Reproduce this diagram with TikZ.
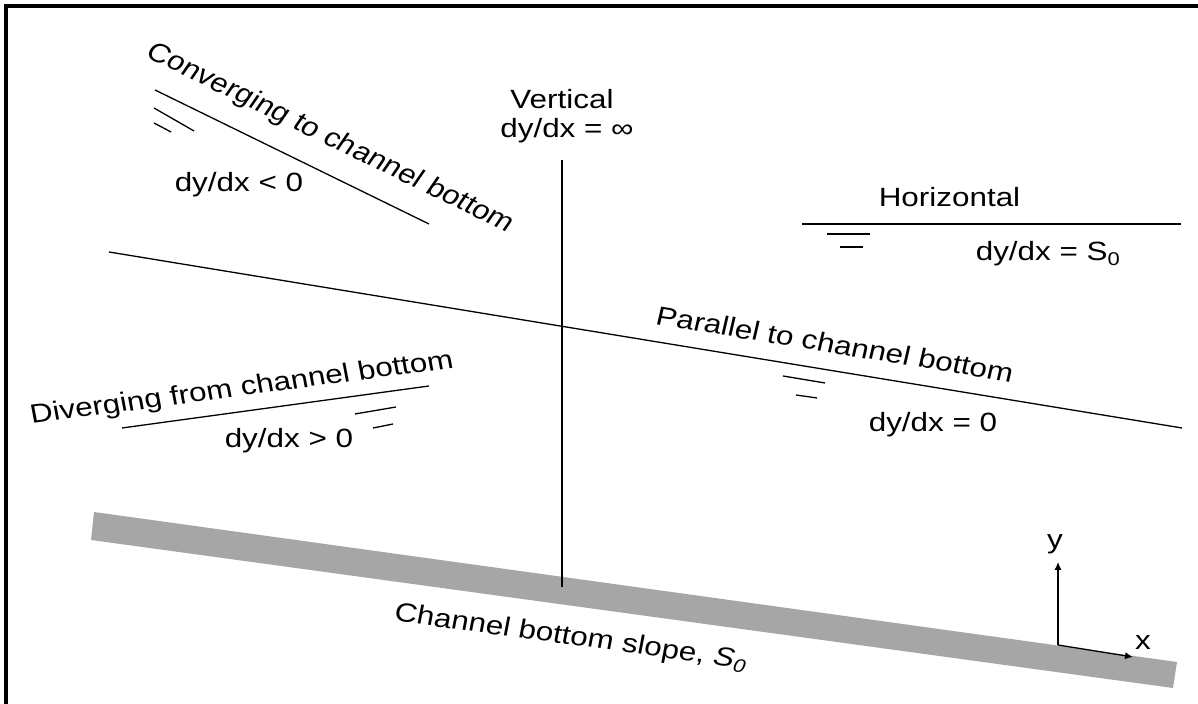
\documentclass[tikz,border=0pt]{standalone}
\usepackage{fontspec}
\setmainfont{Liberation Sans}
\usepackage{tikz}
\usetikzlibrary{arrows.meta, positioning}
\definecolor{grisfondo}{RGB}{166,166,166}
\newcommand{\textsize}{\fontsize{13.2}{15.8}\selectfont}
\tikzset{>={Latex[length=4pt, width=3.6pt]}, etiq/.style={xscale=1.19, font=\textsize, inner sep=0pt}}

\begin{document}
\begin{tikzpicture}[x=50pt, y=50pt, line width=0.65pt]
	\useasboundingbox (0,0) rectangle (11.98,7.04);
	\draw [line width=2pt] (0.06,0) -- (0.06,6.98) -- (11.98,6.98);

	% channel bottom
	\fill [grisfondo] (0.94,1.92) -- (11.77,0.42) -- (11.73,0.16) -- (0.91,1.64) -- cycle;
	\node [etiq, rotate=-9.2] (fondo) at (5.71,0.66) {Channel bottom slope, \textit{S}\textsubscript{\textit{0}}};

	% converging
	\draw (1.55,6.14) -- (4.29,4.80);
	\draw (1.54,5.96) -- (1.94,5.73);
	\draw (1.54,5.81) -- (1.71,5.72);
	\node [etiq, rotate=-30] (conv) at (3.30,5.655) {Converging to channel bottom};
	\node [etiq, anchor=base west] (convdy) at (1.74,5.12) {dy/dx < 0};

	% vertical
	\draw (5.62,5.44) -- (5.62,1.17);
	\node [etiq, anchor=base] (vert) at (5.62,5.95) {Vertical};
	\node [etiq, anchor=base] (vertdy) at (5.67,5.66) {dy/dx = ∞};

	% horizontal
	\draw (8.02,4.80) -- (11.81,4.80);
	\draw (8.27,4.70) -- (8.70,4.70);
	\draw (8.40,4.57) -- (8.63,4.57);
	\node [etiq, anchor=base west] (horiz) at (8.78,4.97) {Horizontal};
	\node [etiq, anchor=base west] (horizdy) at (9.75,4.43) {dy/dx = S\textsubscript{0}};

	% parallel
	\draw (1.09,4.52) -- (11.82,2.76);
	\draw (7.83,3.28) -- (8.25,3.21);
	\draw (7.96,3.09) -- (8.17,3.06);
	\node [etiq, rotate=-11] (para) at (8.35,3.60) {Parallel to channel bottom};
	\node [etiq, anchor=base west] (parady) at (8.68,2.72) {dy/dx = 0};

	% diverging
	\draw (1.22,2.76) -- (4.29,3.18);
	\draw (3.55,2.90) -- (3.96,2.97);
	\draw (3.73,2.76) -- (3.93,2.80);
	\node [etiq, rotate=9] (div) at (2.42,3.15) {Diverging from channel bottom};
	\node [etiq, anchor=base west] (divdy) at (2.24,2.56) {dy/dx > 0};

	% axes
	\coordinate (origen) at (10.58,0.59);
	\coordinate (puntay) at (10.58,1.42);
	\coordinate (puntax) at (11.33,0.47);
	\draw [->] (origen) -- (puntay);
	\draw [->] (origen) -- (puntax);
	\node [etiq, anchor=base] (ejey) at (10.55,1.55) {y};
	\node [etiq, anchor=base] (ejex) at (11.43,0.54) {x};
\end{tikzpicture}
\end{document}
